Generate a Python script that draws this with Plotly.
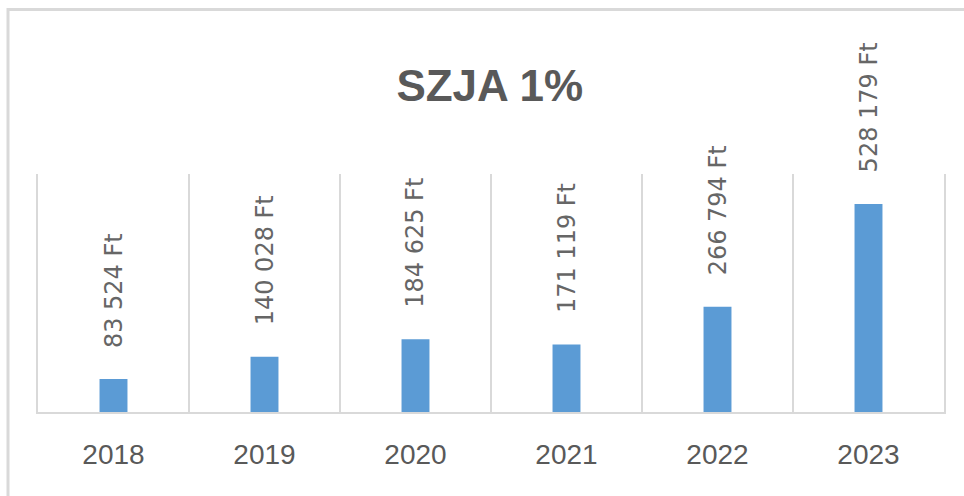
import plotly.graph_objects as go

years = ["2018", "2019", "2020", "2021", "2022", "2023"]
values = [83524, 140028, 184625, 171119, 266794, 528179]
labels = ["83 524 Ft", "140 028 Ft", "184 625 Ft", "171 119 Ft", "266 794 Ft", "528 179 Ft"]
title_text = "SZJA 1%"

BAR = "#5B9BD5"
GRID = "#d9d9d9"
TXT = "#595959"
SANS = "Liberation Sans, Arial, sans-serif"

fig = go.Figure()
fig.add_trace(go.Bar(x=years, y=values, marker=dict(color=BAR, line=dict(width=0)),
                     hoverinfo="skip"))

for i, (v, lab) in enumerate(zip(values, labels)):
    fig.add_annotation(x=i, y=v, text=lab, textangle=-90, showarrow=False,
                       xanchor="center", yanchor="bottom", yshift=29,
                       font=dict(family="DejaVu Sans", size=24, color="#666666"))

# outer chart border (partially visible)
fig.add_shape(type="rect", xref="paper", yref="paper",
              x0=-0.0331, x1=1.05, y0=-0.45, y1=1.691,
              line=dict(color=GRID, width=3), fillcolor="rgba(0,0,0,0)", layer="below")

fig.update_layout(
    width=964, height=496,
    margin=dict(l=38, r=20, t=174, b=84, autoexpand=False),
    paper_bgcolor="white", plot_bgcolor="white",
    bargap=0.815,
    showlegend=False,
    title=dict(text="<b>" + title_text + "</b>", x=0.508, xanchor="center",
               y=1 - 86 / 496, yanchor="middle", yref="container",
               font=dict(family=SANS, size=44, color=TXT)),
    xaxis=dict(type="category", tickson="boundaries", showgrid=True, gridcolor=GRID, gridwidth=2,
               showline=True, linecolor=GRID, linewidth=2, ticks="", ticklabelstandoff=16,
               tickangle=0, automargin=False,
               tickfont=dict(family=SANS, size=28, color=TXT), fixedrange=True),
    yaxis=dict(range=[0, 604000], showgrid=False, zeroline=False, showticklabels=False,
               ticks="", showline=True, mirror=True, linecolor=GRID, linewidth=2, fixedrange=True,
               automargin=False),
)

fig.write_html("out.html", config={"displayModeBar": False, "staticPlot": True},
               post_script="document.body.style.margin='0';document.body.style.overflow='hidden';")
